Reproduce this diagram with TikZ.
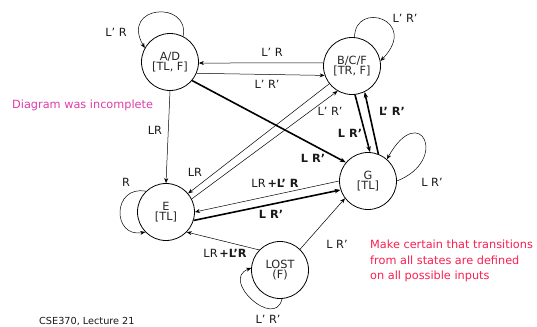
\documentclass[tikz,border=0pt]{standalone}
\usepackage{fontspec}
\setmainfont{DejaVu Sans}
\usetikzlibrary{arrows.meta}
\definecolor{notepink}{RGB}{222,60,170}
\definecolor{notered}{RGB}{250,30,80}

\begin{document}
\begin{tikzpicture}
        [%%%%%%%%%%%%%%%%%%%%%%%%%%%%%%
        x=1pt, y=-1pt,
        state/.style={circle, draw=black, line width=0.8pt, minimum size=57pt, inner sep=0pt,
          align=center, text=black!85, font=\fontsize{11.3}{10.5}\selectfont},
        lbl/.style={inner sep=0pt, text=black!90, font=\fontsize{11.3}{12}\selectfont},
        edge/.style={-{Stealth[length=5pt,width=4pt]}, line width=0.5pt},
        heavy/.style={-{Stealth[length=6pt,width=4.5pt]}, line width=1.6pt},
        ]%%%%%%%%%%%%%%%%%%%%%%%%%%%%%%
        \useasboundingbox (0,0) rectangle (537,326);

        % states
        \node[state] (ad) at (170,62) {A/D\\ {[TL, F]}};
        \node[state] (bcf) at (352,66) {B/C/F\\ {[TR, F]}};
        \node[state] (g) at (368,181) {G\\ {[TL]}};
        \node[state] (e) at (166,212) {E\\ {[TL]}};
        \node[state] (lost) at (280,270) {LOST\\ (F)};

        % self loops
        \draw[edge] (ad.63) .. controls (190,0) and (120,5) .. (ad.151);
        \draw[edge] (bcf.85) .. controls (355,0) and (420,20) .. (bcf.10);
        \draw[edge] (g.0) .. controls (450,160) and (420,100) .. (g.49);
        \draw[edge] (e.134) .. controls (112,185) and (112,238) .. (e.-136);
        \draw[edge] (lost.-86) .. controls (275,330) and (220,280) .. (lost.176);

        % transitions
        \draw[edge] (bcf.174) -- (ad.-2);
        \draw[edge] (ad.-23) -- (bcf.199);
        \draw[heavy] (ad.-40) -- (g.140);
        \draw[heavy] (bcf.-84) -- (g.86);
        \draw[heavy] (g.69) -- (bcf.-64);
        \draw[edge] (bcf.-142) -- (e.40);
        \draw[edge] (e.27) -- (bcf.-120);
        \draw[edge] (ad.south) -- (e.north);
        \draw[edge] (g.180) -- (e.0);
        \draw[heavy] (e.-17) -- (g.-162);
        \draw[edge] (lost.136) -- (e.-44);
        \draw[edge] (lost.46) -- (g.-143);

        % inputs on the arcs
        \node[lbl] (lab-ad) at (116,32) {L’ R};
        \node[lbl] (lab-ba) at (272,52) {L’ R};
        \node[lbl] (lab-ab) at (267,84) {L’ R’};
        \node[lbl] (lab-bcf) at (405,18) {L’ R’};
        \node[lbl] (lab-eb) at (330,111) {L’ R’};
        \node[lbl] (lab-gb) at (392,111) {\textbf{L’ R’}};
        \node[lbl] (lab-bg) at (350,133) {\textbf{L R’}};
        \node[lbl] (lab-ag) at (313,158) {\textbf{L R’}};
        \node[lbl] (lab-ae) at (155,130) {LR};
        \node[lbl] (lab-be) at (195,172) {LR};
        \node[lbl] (lab-e) at (126,182) {R};
        \node[lbl] (lab-ge) at (275,183) {LR\,\textbf{+L’ R}};
        \node[lbl] (lab-eg) at (271,214) {\textbf{L R’}};
        \node[lbl] (lab-g) at (432,182) {L R’};
        \node[lbl] (lab-le) at (225,253) {LR\,\textbf{+L’R}};
        \node[lbl] (lab-lg) at (337,244) {L R’};
        \node[lbl] (lab-lost) at (268,319) {L’ R’};

        % notes
        \node[lbl, text=notepink, anchor=west] (note-inc) at (12,105) {Diagram was incomplete};
        \node[lbl, text=notered, anchor=north west, align=left,
          font=\fontsize{11.3}{15.5}\selectfont] (note-def) at (370,240)
          {Make certain that transitions\\from all states are defined\\on all possible inputs};
        \node[lbl, anchor=base west, font=\fontsize{9.7}{12}\selectfont] (foot) at (39,324)
          {CSE370, Lecture 21};

      \end{tikzpicture}
\end{document}
